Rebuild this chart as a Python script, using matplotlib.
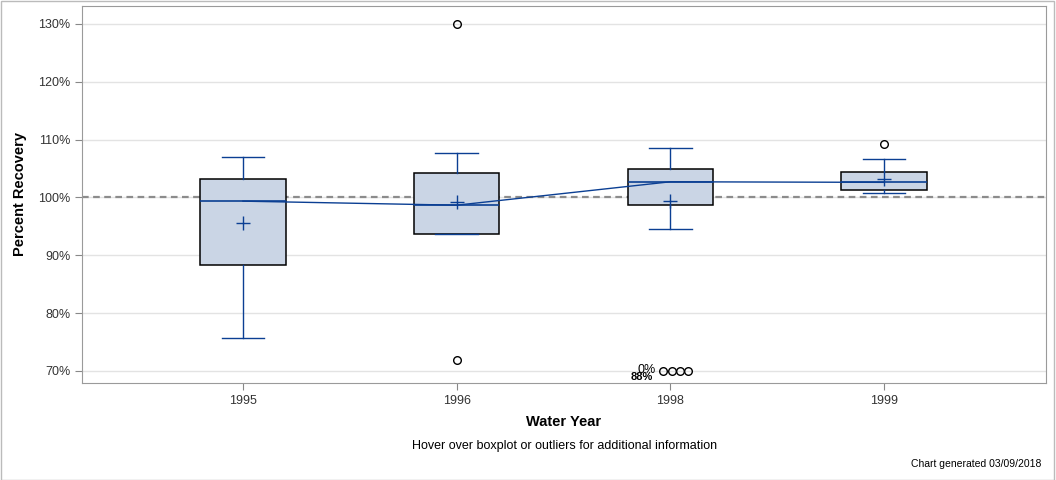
import matplotlib
matplotlib.use("Agg")
import matplotlib.pyplot as plt
from matplotlib.ticker import FuncFormatter

plt.rcParams['font.family'] = ['Liberation Sans', 'DejaVu Sans']

# data
years = ["1995", "1996", "1998", "1999"]
whislo = [75.6, 93.6, 94.5, 100.8]
q1 = [88.3, 93.6, 98.7, 101.2]
med = [99.35, 98.65, 102.7, 102.6]
q3 = [103.1, 104.2, 104.9, 104.35]
whishi = [107.0, 107.6, 108.6, 106.6]
means = [95.5, 99.2, 99.4, 103.1]
outliers = [[], [130.0, 71.9], [], [109.2]]
clipped_1998 = [70.0, 70.0, 70.0, 70.0]  # low values shown on the axis floor

blue = '#0B3F93'
fill = '#CAD5E5'

fig = plt.figure(figsize=(10.56, 4.8), dpi=100)
ax = fig.add_axes([82/1056, 97/480, 964/1056, 377/480])

stats = []
for i in range(len(years)):
    stats.append(dict(med=med[i], q1=q1[i], q3=q3[i], whislo=whislo[i],
                      whishi=whishi[i], mean=means[i], fliers=outliers[i],
                      label=years[i]))

pos = list(range(len(years)))
ax.bxp(stats, positions=pos, widths=0.4, showmeans=True, patch_artist=True,
       boxprops=dict(facecolor=fill, edgecolor='black', linewidth=1.1),
       whiskerprops=dict(color=blue, linewidth=1),
       capprops=dict(color=blue, linewidth=1),
       medianprops=dict(color=blue, linewidth=1.2),
       meanprops=dict(marker='+', markeredgecolor=blue, markersize=10,
                      markeredgewidth=1),
       flierprops=dict(marker='o', markerfacecolor='none',
                       markeredgecolor='black', markersize=5.5),
       zorder=3)

# connect the medians
ax.plot(pos, med, color=blue, linewidth=1, zorder=4)

# clipped 1998 values drawn side by side at the floor
for k, v in enumerate(clipped_1998):
    ax.plot(pos[2] - 0.033 + k * 0.039, v, 'o', markerfacecolor='none',
            markeredgecolor='black', markersize=5.5, zorder=5, clip_on=False)
ax.text(pos[2] - 0.11, 70.1, "0%", fontsize=9, ha='center', va='center')
ax.text(pos[2] - 0.135, 68.9, "88%", fontsize=8, fontweight='bold',
        ha='center', va='center')

ax.axhline(100, color='#8C8C8C', linestyle=(0, (3, 2)), linewidth=1.6, zorder=2)

ax.set_xlim(-0.753, 3.758)
ax.set_ylim(67.9, 133.1)
ax.set_yticks([70, 80, 90, 100, 110, 120, 130])
ax.yaxis.set_major_formatter(FuncFormatter(lambda v, p: f"{v:.0f}%"))
ax.yaxis.grid(True, color='#E3E3E3', linewidth=1)
ax.set_axisbelow(True)
ax.set_xticks(pos)
ax.set_xticklabels(years)
ax.tick_params(labelsize=9, colors='#333333', length=5, color='#888888')
for s in ax.spines.values():
    s.set_color('#9A9A9A')

ax.set_xlabel("Water Year", fontsize=10.5, fontweight='bold', labelpad=6)
ax.set_ylabel("Percent Recovery", fontsize=10.5, fontweight='bold', labelpad=8)

fig.text(565/1056, 1 - 446/480, "Hover over boxplot or outliers for additional information",
         ha='center', va='center', fontsize=9)
fig.text(1041/1056, 1 - 464/480, "Chart generated 03/09/2018",
         ha='right', va='center', fontsize=7.5)

# outer frame
fig.patches.append(plt.Rectangle((0.0005, 0.001), 0.998, 0.997, transform=fig.transFigure,
                                 fill=False, edgecolor='#BBBBBB', linewidth=1))

fig.savefig("out.png", dpi=100)
